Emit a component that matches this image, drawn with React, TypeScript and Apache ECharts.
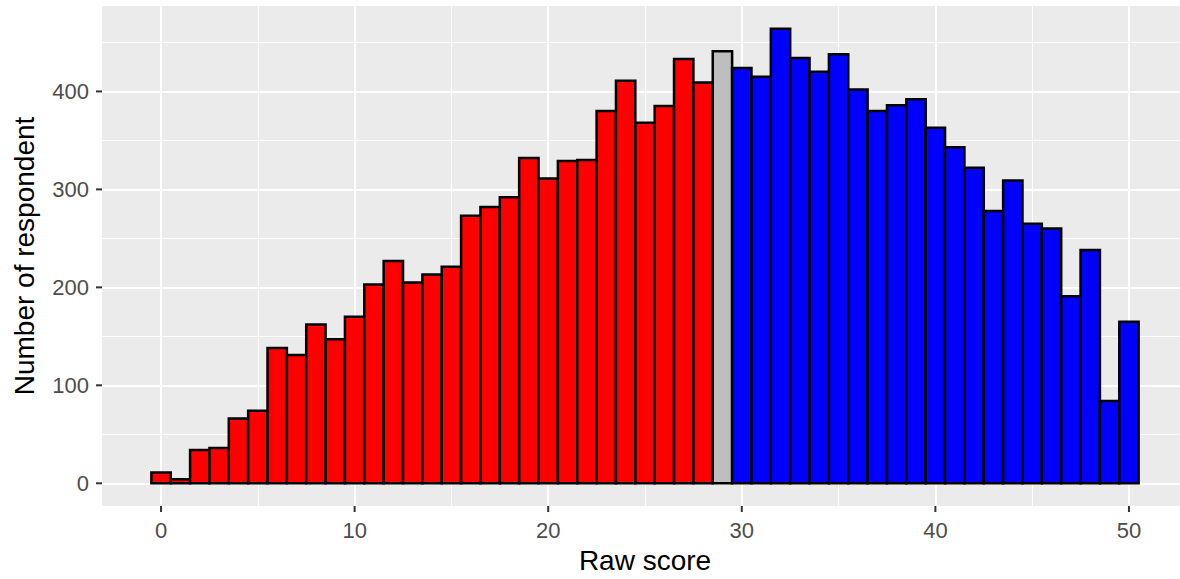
import React, { useEffect, useRef } from "react";
import * as echarts from "echarts";

// Raw score (bin centres) and number of respondents per score
const scores: number[] = [
  0, 1, 2, 3, 4, 5, 6, 7, 8, 9, 10, 11, 12, 13, 14, 15, 16, 17, 18, 19, 20,
  21, 22, 23, 24, 25, 26, 27, 28, 29, 30, 31, 32, 33, 34, 35, 36, 37, 38, 39,
  40, 41, 42, 43, 44, 45, 46, 47, 48, 49, 50,
];
const counts: number[] = [
  11, 4, 34, 36, 66, 74, 138, 131, 162, 147, 170, 203, 227, 205, 213, 221,
  273, 282, 292, 332, 311, 329, 330, 380, 411, 368, 385, 433, 409, 441, 424,
  415, 464, 434, 420, 438, 402, 380, 386, 392, 363, 343, 322, 278, 309, 265,
  260, 191, 238, 84, 165,
];
// score that is drawn in grey; below it red, above it blue
const cutScore = 29;

// tick labels
const xTicks: number[] = [0, 10, 20, 30, 40, 50];
const yTicks: number[] = [0, 100, 200, 300, 400];

const xTitle = "Raw score";
const yTitle = "Number of respondent";

const FONT = "'Liberation Sans', Arial, Helvetica, sans-serif";

export default function App() {
  const ref = useRef<HTMLDivElement>(null);

  useEffect(() => {
    if (!ref.current) return;
    const chart = echarts.init(ref.current, undefined, { renderer: "svg" });

    const G_LEFT = 102;
    const G_TOP = 6;
    const G_W = 1086;
    const G_H = 500;

    // ggplot-like expansion of the data range
    const xMin = scores[0] - 0.5 - 0.05 * scores.length;
    const xMax = scores[scores.length - 1] + 0.5 + 0.05 * scores.length;
    const maxC = Math.max(...counts);
    const yMin = -0.05 * maxC;
    const yMax = maxC * 1.05;

    const data = scores.map((s, i) => [s, counts[i]]);

    const majorSplit = {
      show: true,
      showMinLine: false,
      showMaxLine: false,
      lineStyle: { color: "#FFFFFF", width: 2 },
    };
    const minorSplit = {
      show: true,
      showMinLine: false,
      showMaxLine: false,
      lineStyle: { color: "#FFFFFF", width: 1 },
    };
    const labelStyle = (vals: number[]) => ({
      show: true,
      customValues: vals,
      color: "#4D4D4D",
      fontSize: 22,
      fontFamily: FONT,
      margin: 13,
    });
    const TICK_LEN = 6;
    const tickLine = { stroke: "#333333", lineWidth: 2 };

    chart.setOption({
      animation: false,
      backgroundColor: "#FFFFFF",
      grid: {
        left: G_LEFT,
        top: G_TOP,
        width: G_W,
        height: G_H,
        show: true,
        backgroundColor: "#EBEBEB",
        borderWidth: 0,
        containLabel: false,
      },
      xAxis: [
        {
          type: "value",
          min: xMin,
          max: xMax,
          minInterval: 5,
          maxInterval: 5,
          position: "bottom",
          axisLine: { show: false, onZero: false },
          axisTick: { show: false },
          axisLabel: { show: false },
          splitLine: minorSplit,
        },
        {
          type: "value",
          min: xMin,
          max: xMax,
          minInterval: 10,
          maxInterval: 10,
          position: "bottom",
          axisLine: { show: false, onZero: false },
          axisTick: { show: false },
          axisLabel: labelStyle(xTicks),
          splitLine: majorSplit,
          name: xTitle,
          nameLocation: "middle",
          nameGap: 40,
          nameTextStyle: { color: "#000000", fontSize: 28, fontFamily: FONT },
        },
      ],
      yAxis: [
        {
          type: "value",
          min: yMin,
          max: yMax,
          minInterval: 50,
          maxInterval: 50,
          position: "left",
          axisLine: { show: false, onZero: false },
          axisTick: { show: false },
          axisLabel: { show: false },
          splitLine: minorSplit,
        },
        {
          type: "value",
          min: yMin,
          max: yMax,
          minInterval: 100,
          maxInterval: 100,
          position: "left",
          axisLine: { show: false, onZero: false },
          axisTick: { show: false },
          axisLabel: labelStyle(yTicks),
          splitLine: majorSplit,
          name: yTitle,
          nameLocation: "middle",
          nameGap: 64,
          nameTextStyle: { color: "#000000", fontSize: 28, fontFamily: FONT },
        },
      ],
      series: [
        {
          type: "custom",
          xAxisIndex: 1,
          yAxisIndex: 1,
          encode: { x: 0, y: 1 },
          data,
          z: 5,
          renderItem: (params: any, api: any) => {
            const s = api.value(0);
            const c = api.value(1);
            const p0 = api.coord([s - 0.5, c]);
            const p1 = api.coord([s + 0.5, 0]);
            const fill =
              s < cutScore ? "#FF0000" : s === cutScore ? "#BEBEBE" : "#0000FF";
            return {
              type: "rect",
              shape: {
                x: p0[0],
                y: p0[1],
                width: p1[0] - p0[0],
                height: p1[1] - p0[1],
              },
              style: { fill, stroke: "#000000", lineWidth: 2.5 },
            };
          },
        },
      ],
    });

    // tick marks, placed through the axes' own scales
    const bottom = G_TOP + G_H;
    const tickEls: any[] = [];
    xTicks.forEach((v) => {
      const px = chart.convertToPixel({ xAxisIndex: 1 }, v) as number;
      tickEls.push({
        type: "line",
        z: 100,
        silent: true,
        shape: { x1: px, y1: bottom, x2: px, y2: bottom + TICK_LEN },
        style: tickLine,
      });
    });
    yTicks.forEach((v) => {
      const py = chart.convertToPixel({ yAxisIndex: 1 }, v) as number;
      tickEls.push({
        type: "line",
        z: 100,
        silent: true,
        shape: { x1: G_LEFT - TICK_LEN, y1: py, x2: G_LEFT, y2: py },
        style: tickLine,
      });
    });
    chart.setOption({ graphic: { elements: tickEls } });

    return () => chart.dispose();
  }, []);

  return (
    <div
      style={{
        position: "fixed",
        left: 0,
        top: 0,
        width: 1180,
        height: 579,
        overflow: "hidden",
        background: "#FFFFFF",
      }}
    >
      <div ref={ref} style={{ width: 1200, height: 579 }} />
    </div>
  );
}
